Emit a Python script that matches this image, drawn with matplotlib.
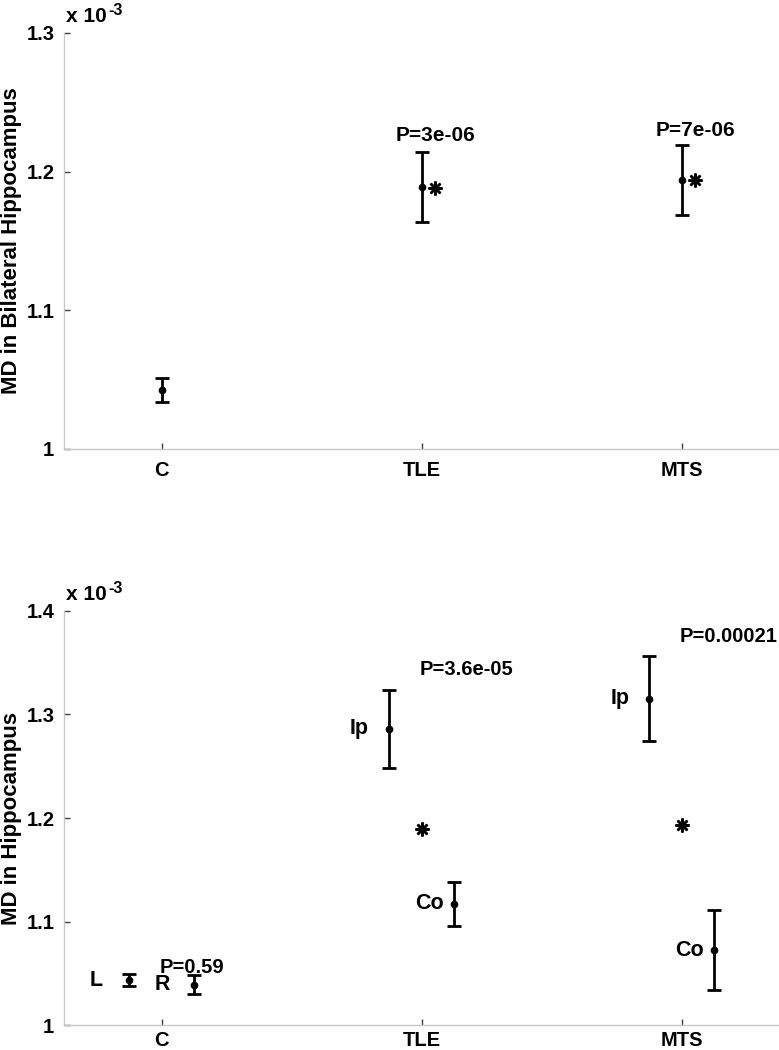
import numpy as np
import matplotlib
matplotlib.use("Agg")
import matplotlib.pyplot as plt

plt.rcParams['font.family'] = ['Liberation Sans', 'DejaVu Sans']
plt.rcParams['font.weight'] = 'bold'

# values in units of 1e-3
groups = ["C", "TLE", "MTS"]

# top panel: bilateral hippocampus
bil_mean = [1.0425, 1.189, 1.194]
bil_err = [0.0085, 0.025, 0.025]
bil_star = [1.188, 1.194]          # patient group reference (TLE, MTS)
bil_p = ["P=3e-06", "P=7e-06"]
bil_p_y = [1.226, 1.230]

# bottom panel: ipsilateral / contralateral (left / right for controls)
side_labels = ["L", "R", "Ip", "Co", "Ip", "Co"]
side_mean = [1.0433, 1.0387, 1.2862, 1.117, 1.3153, 1.0723]
side_err = [0.0058, 0.0092, 0.0376, 0.021, 0.0413, 0.0387]
side_grp = [1, 1, 2, 2, 3, 3]
side_shift = [-0.125, 0.125, -0.125, 0.125, -0.125, 0.125]
hip_star = [1.189, 1.193]
hip_p = ["P=0.59", "P=3.6e-05", "P=0.00021"]
hip_p_y = [1.056, 1.343, 1.375]

fig = plt.figure(figsize=(7.79, 10.5), dpi=100)
ax1 = fig.add_axes([0.0822, 0.5724, 0.918, 0.3962])
ax2 = fig.add_axes([0.0822, 0.0238, 0.918, 0.3943])

x = np.arange(1, 4)

def style(ax, ylim, yticks, ylabel, xpad):
    ax.set_xlim(0.625, 3.375)
    ax.set_ylim(*ylim)
    ax.set_xticks(x)
    ax.set_xticklabels(groups)
    ax.set_yticks(yticks)
    ax.set_yticklabels(["1" if t == 1 else "%.1f" % t for t in yticks])
    for s in ["top", "right"]:
        ax.spines[s].set_visible(False)
    for s in ["left", "bottom"]:
        ax.spines[s].set_color("#c8c8c8")
        ax.spines[s].set_linewidth(1.0)
    ax.tick_params(direction="in", length=4, width=1, color="#404040",
                   labelsize=14.5)
    ax.tick_params(axis="y", pad=7)
    ax.tick_params(axis="x", pad=xpad)
    ax.set_ylabel(ylabel, fontsize=16, fontweight="bold")
    ax.yaxis.set_label_coords(-0.059, 0.5)
    t = ax.text(0.003, 1.016, "x 10", transform=ax.transAxes,
                fontsize=15, fontweight="bold", ha="left", va="bottom")
    ax.annotate("-3", xy=(1, 1), xycoords=t, xytext=(1, -2),
                textcoords="offset points", fontsize=11.5,
                fontweight="bold", ha="left", va="center")

# top panel
ax1.errorbar(x, bil_mean, yerr=bil_err, fmt="o", color="black", ms=4.5,
             elinewidth=2, capsize=5, capthick=2)
ax1.plot(x[1:] + 0.05, bil_star, linestyle="none", marker=(8, 2, 0),
         ms=10, mew=1.8, color="black")
for xi, txt, yy in zip(x[1:], bil_p, bil_p_y):
    ax1.text(xi - 0.1, yy, txt, fontsize=15, fontweight="bold",
             ha="left", va="center")
style(ax1, (1.0, 1.3), [1.0, 1.1, 1.2, 1.3], "MD in Bilateral Hippocampus", 9)

# bottom panel
sx = np.array(side_grp) + np.array(side_shift)
ax2.errorbar(sx, side_mean, yerr=side_err, fmt="o", color="black", ms=4.5,
             elinewidth=2, capsize=5, capthick=2)
for xi, yi, lab in zip(sx, side_mean, side_labels):
    ax2.text(xi - 0.15, yi, lab, fontsize=15.5, fontweight="bold",
             ha="left", va="center")
ax2.plot(x[1:], hip_star, linestyle="none", marker=(8, 2, 0),
         ms=10, mew=1.8, color="black")
for xi, txt, yy in zip(x, hip_p, hip_p_y):
    ax2.text(xi - 0.008, yy, txt, fontsize=14.5, fontweight="bold",
             ha="left", va="center")
style(ax2, (1.0, 1.4), [1.0, 1.1, 1.2, 1.3, 1.4], "MD in Hippocampus", 4)

fig.savefig("out.png", dpi=100)
